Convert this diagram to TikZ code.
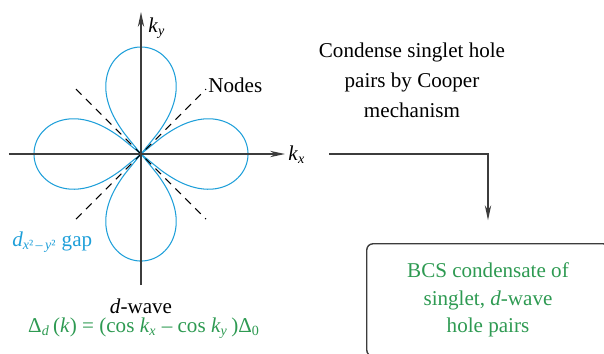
\documentclass[tikz,border=0pt]{standalone}
\usepackage{fontspec}
\setmainfont{Liberation Serif}
\usetikzlibrary{arrows.meta, positioning}
\definecolor{gapblue}{HTML}{1E9FD9}
\definecolor{bcsgreen}{HTML}{2E9A52}
\definecolor{axgrey}{HTML}{3C3C3C}

\begin{document}
\begin{tikzpicture}[x=0.02cm, y=0.02cm, font=\fontsize{12}{15}\selectfont,
          ax/.style={draw=axgrey, line width=0.8pt, -{Stealth[length=8.5pt, width=3.6pt]}},
          lobe/.style={draw=gapblue, line width=0.6pt},
          nodeline/.style={draw=black, line width=0.6pt, dash pattern=on 4.5pt off 3.5pt},
          txt/.style={inner sep=0pt, align=center},
          bcsbox/.style={draw=axgrey, line width=0.8pt, rounded corners=3.5pt, minimum width=138pt, minimum height=64pt, align=center, text=bcsgreen, font=\fontsize{12}{15.5}\selectfont}]
  \useasboundingbox (-141,-199) rectangle (463,154);
  \coordinate (O) at (0,0);
  \coordinate (xl) at (-132,0);
  \coordinate (xr) at (144,0);
  \coordinate (yb) at (0,-131);
  \coordinate (yt) at (0,142);
  \foreach \a in {0,90,180,270}
    \draw[lobe, rotate=\a] plot[smooth, domain=-40:40, samples=81]
      ({107*(abs(cos(\x*90/40))+0.00001)^0.45*cos(\x)}, {107*(abs(cos(\x*90/40))+0.00001)^0.45*sin(\x)});
  \coordinate (n1) at (-65,65);
  \coordinate (n2) at (65,-65);
  \coordinate (n3) at (-65,-65);
  \coordinate (n4) at (65,65);
  \draw[nodeline] (n1) -- (n2);
  \draw[nodeline] (n3) -- (n4);
  \draw[ax] (xl) -- (xr);
  \draw[ax] (yb) -- (yt);
  \node[txt, anchor=west] (kx) at (147,-1) {\textit{k}\textsubscript{\textit{x}}};
  \node[txt, anchor=west] (ky) at (7,126) {\textit{k}\textsubscript{\textit{y}}};
  \node[txt, anchor=west] (nodes) at (67,69) {Nodes};
  \node[txt, anchor=west, text=gapblue] (gap) at (-129,-88) {\textit{d}\textsubscript{\textit{x}²\,–\,\textit{y}²} gap};
  \node[txt] (dwave) at (0,-152) {\textit{d}-wave};
  \node[txt, text=bcsgreen] (gapfn) at (3,-174) {Δ\textsubscript{\textit{d}}\,(\textit{k}) = (cos \textit{k}\textsubscript{\textit{x}} – cos \textit{k}\textsubscript{\textit{y}}\,)Δ\textsubscript{0}};
  \node[txt, font=\fontsize{12}{17}\selectfont] (cond) at (271,74) {Condense singlet hole\\pairs by Cooper\\mechanism};
  \node[bcsbox] (bcs) at (347,-146) {BCS condensate of\\singlet, \textit{d}-wave\\hole pairs};
  \coordinate (start) at (188,0);
  \draw[ax, shorten >=13pt] (start) -| (bcs.north);
\end{tikzpicture}
\end{document}
